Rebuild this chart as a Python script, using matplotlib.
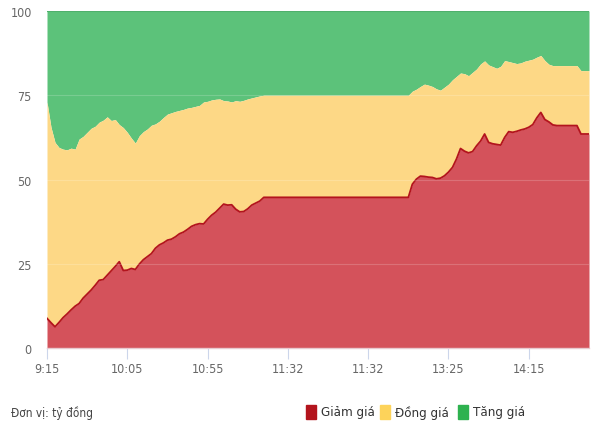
import matplotlib
matplotlib.use("Agg")
import matplotlib.pyplot as plt
import numpy as np

plt.rcParams['font.family'] = ['DejaVu Sans']
plt.rcParams['font.stretch'] = 'condensed'

# Tick labels (categorical time axis; one label every 20 points)
time_labels = ["9:15", "10:05", "10:55", "11:32", "11:32", "13:25", "14:15"]

# Giảm giá (bottom series, %)
giam_gia = [
    8.8, 7.5, 6.3, 7.6, 9.0, 10.1, 11.3, 12.4, 13.2, 14.8,
    16.0, 17.2, 18.6, 20.1, 20.3, 21.6, 22.9, 24.2, 25.6, 23.0,
    23.1, 23.6, 23.3, 24.9, 26.2, 27.1, 28.0, 29.6, 30.6, 31.2,
    32.0, 32.3, 33.0, 33.9, 34.4, 35.2, 36.1, 36.6, 36.9, 36.8,
    38.2, 39.4, 40.3, 41.5, 42.7, 42.4, 42.5, 41.2, 40.4, 40.5,
    41.3, 42.4, 43.0, 43.6, 44.7, 44.7, 44.7, 44.7, 44.7, 44.7,
    44.7, 44.7, 44.7, 44.7, 44.7, 44.7, 44.7, 44.7, 44.7, 44.7,
    44.7, 44.7, 44.7, 44.7, 44.7, 44.7, 44.7, 44.7, 44.7, 44.7,
    44.7, 44.7, 44.7, 44.7, 44.7, 44.7, 44.7, 44.7, 44.7, 44.7,
    44.7, 48.6, 50.1, 51.0, 50.9, 50.7, 50.6, 50.2, 50.4, 51.1,
    52.2, 53.6, 56.1, 59.2, 58.4, 57.9, 58.3, 60.0, 61.4, 63.5,
    61.0, 60.6, 60.4, 60.2, 62.5, 64.2, 64.0, 64.3, 64.7, 65.0,
    65.5, 66.3, 68.3, 69.9, 67.8, 67.1, 66.2, 66.0, 66.0, 66.0,
    66.0, 66.0, 66.0, 63.5, 63.5, 63.5,
]

# Giảm giá + Đồng giá (top of the yellow band, %)
giam_dong = [
    73.0, 65.5, 61.0, 59.5, 59.0, 58.8, 59.3, 59.0, 62.0, 62.8,
    64.0, 65.2, 65.8, 67.0, 67.6, 68.6, 67.5, 67.8, 66.3, 65.4,
    64.0, 62.3, 60.8, 63.0, 64.2, 65.0, 66.1, 66.5, 67.3, 68.4,
    69.4, 69.8, 70.2, 70.5, 70.8, 71.2, 71.4, 71.7, 72.0, 73.0,
    73.2, 73.6, 73.8, 73.9, 73.4, 73.3, 73.0, 73.4, 73.2, 73.5,
    73.9, 74.2, 74.5, 74.8, 75.0, 75.0, 75.0, 75.0, 75.0, 75.0,
    75.0, 75.0, 75.0, 75.0, 75.0, 75.0, 75.0, 75.0, 75.0, 75.0,
    75.0, 75.0, 75.0, 75.0, 75.0, 75.0, 75.0, 75.0, 75.0, 75.0,
    75.0, 75.0, 75.0, 75.0, 75.0, 75.0, 75.0, 75.0, 75.0, 75.0,
    75.0, 76.2, 76.8, 77.6, 78.3, 78.0, 77.6, 76.9, 76.5, 77.4,
    78.3, 79.6, 80.6, 81.6, 81.4, 80.8, 81.8, 82.8, 84.3, 85.2,
    84.0, 83.5, 83.0, 83.6, 85.3, 85.0, 84.7, 84.4, 84.6, 85.1,
    85.4, 85.7, 86.3, 86.8, 85.3, 84.2, 83.8, 83.8, 83.8, 83.8,
    83.8, 83.8, 83.8, 82.3, 82.3, 82.3,
]

total = 100.0
legend_labels = ["Giảm giá", "Đồng giá", "Tăng giá"]
unit_label = "Đơn vị: tỷ đồng"

red = "#d4525b"
red_line = "#b3141d"
yellow = "#fdd886"
green = "#5cc27a"

x = np.arange(len(giam_gia))
g = np.array(giam_gia)
gd = np.array(giam_dong)

fig = plt.figure(figsize=(5.94, 4.27), dpi=100)
ax = fig.add_axes([47/594, 1 - 349/427, 542/594, 337/427])

ax.fill_between(x, gd, total, color=green, linewidth=0)
ax.fill_between(x, g, gd, color=yellow, linewidth=0)
ax.fill_between(x, 0, g, color=red, linewidth=0)
ax.plot(x, g, color=red_line, linewidth=1.3)
ax.plot(x, np.full(len(x), total), color="#4fb06c", linewidth=0.8)

for yv in (25, 50, 75):
    ax.axhline(yv, color="white", alpha=0.18, linewidth=0.8)

ax.set_xlim(0, len(x) - 1)
ax.set_ylim(0, 100)
ax.set_yticks([0, 25, 50, 75, 100])
ax.set_yticklabels(["0", "25", "50", "75", "100"])
tick_pos = np.arange(0, len(time_labels) * 20, 20)
ax.set_xticks(tick_pos)
ax.set_xticklabels(time_labels)

for s in ("top", "right", "left"):
    ax.spines[s].set_visible(False)
ax.spines["bottom"].set_color("#e8c9cf")
ax.spines["bottom"].set_linewidth(1.0)
ax.tick_params(axis="x", length=8, width=0.8, color="#ccd6eb",
               labelsize=9, labelcolor="#666666", pad=2)
ax.tick_params(axis="y", length=0, labelsize=9, labelcolor="#666666", pad=11)

fig.text(11/594, 1 - 413/427, unit_label, fontsize=8.5, color="#444444",
         va="center", ha="left")

items = [(306, red_line, legend_labels[0]), (380, "#fdd35a", legend_labels[1]),
         (458, "#2eb24f", legend_labels[2])]
for px, c, lab in items:
    fig.patches.append(plt.Rectangle((px/594, 1 - 420/427), 10/594, 14/427,
                                     transform=fig.transFigure, color=c))
    fig.text((px + 15)/594, 1 - 413/427, lab, fontsize=9.5, color="#333333",
             va="center", ha="left")

fig.savefig("out.png", dpi=100)
